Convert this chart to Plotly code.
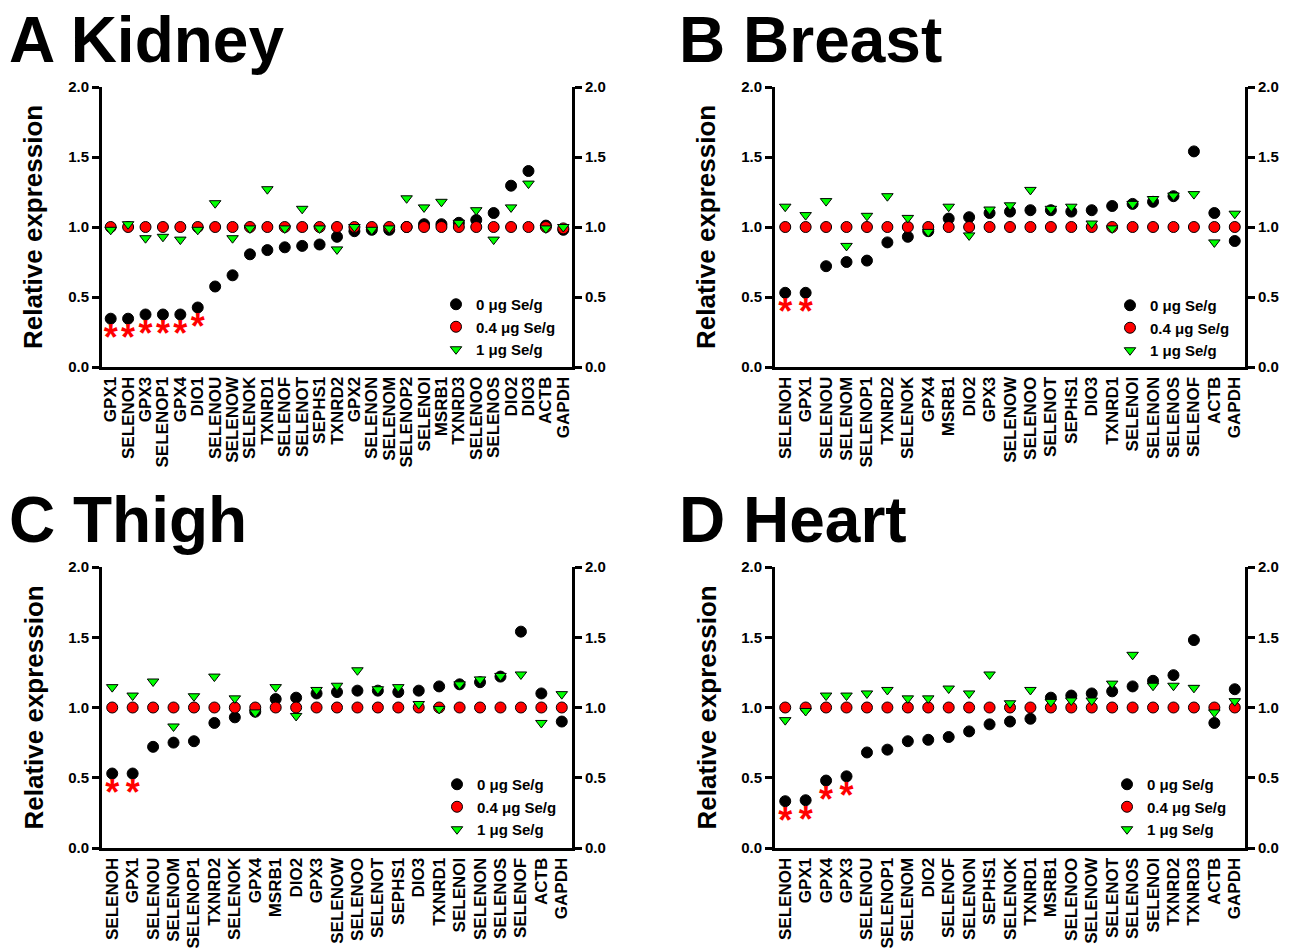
import plotly.graph_objects as go

# ---------------- data ----------------
A_genes = ["GPX1", "SELENOH", "GPX3", "SELENOP1", "GPX4", "DIO1", "SELENOU", "SELENOW",
           "SELENOK", "TXNRD1", "SELENOF", "SELENOT", "SEPHS1", "TXNRD2", "GPX2", "SELENON",
           "SELENOM", "SELENOP2", "SELENOI", "MSRB1", "TXNRD3", "SELENOO", "SELENOS", "DIO2",
           "DIO3", "ACTB", "GAPDH"]
A_0 = [0.345, 0.345, 0.375, 0.375, 0.375, 0.425, 0.575, 0.655, 0.805, 0.835, 0.855, 0.865,
       0.875, 0.93, 0.97, 0.98, 0.98, 1.00, 1.02, 1.02, 1.03, 1.05, 1.10, 1.295, 1.40, 1.01, 0.98]
A_04 = [1.0] * 26 + [0.99]
A_1 = [0.98, 1.02, 0.92, 0.93, 0.91, 0.98, 1.17, 0.92, 0.99, 1.27, 0.99, 1.13, 0.99, 0.84,
       1.00, 0.98, 0.99, 1.205, 1.14, 1.18, 1.03, 1.12, 0.91, 1.14, 1.31, 0.99, 1.00]
A_sig = ["GPX1", "SELENOH", "GPX3", "SELENOP1", "GPX4", "DIO1"]

B_genes = ["SELENOH", "GPX1", "SELENOU", "SELENOM", "SELENOP1", "TXNRD2", "SELENOK", "GPX4",
           "MSRB1", "DIO2", "GPX3", "SELENOW", "SELENOO", "SELENOT", "SEPHS1", "DIO3", "TXNRD1",
           "SELENOI", "SELENON", "SELENOS", "SELENOF", "ACTB", "GAPDH"]
B_0 = [0.53, 0.53, 0.72, 0.75, 0.76, 0.89, 0.93, 0.97, 1.06, 1.07, 1.10, 1.11, 1.12, 1.12,
       1.11, 1.12, 1.15, 1.165, 1.18, 1.22, 1.54, 1.10, 0.90]
B_04 = [1.0] * 23
B_1 = [1.145, 1.085, 1.185, 0.865, 1.08, 1.22, 1.065, 0.965, 1.145, 0.94, 1.125, 1.155, 1.265,
       1.13, 1.145, 1.025, 0.99, 1.165, 1.20, 1.225, 1.235, 0.89, 1.095]
B_sig = ["SELENOH", "GPX1"]

C_genes = ["SELENOH", "GPX1", "SELENOU", "SELENOM", "SELENOP1", "TXNRD2", "SELENOK", "GPX4",
           "MSRB1", "DIO2", "GPX3", "SELENOW", "SELENOO", "SELENOT", "SEPHS1", "DIO3", "TXNRD1",
           "SELENOI", "SELENON", "SELENOS", "SELENOF", "ACTB", "GAPDH"]
C_0 = [0.53, 0.53, 0.72, 0.75, 0.76, 0.89, 0.93, 0.97, 1.06, 1.07, 1.10, 1.11, 1.12, 1.12,
       1.11, 1.12, 1.15, 1.165, 1.18, 1.22, 1.54, 1.10, 0.90]
C_04 = [1.0] * 23
C_1 = [1.145, 1.085, 1.185, 0.865, 1.08, 1.22, 1.065, 0.965, 1.145, 0.94, 1.125, 1.155, 1.265,
       1.13, 1.145, 1.025, 0.99, 1.165, 1.20, 1.225, 1.235, 0.89, 1.095]
C_sig = ["SELENOH", "GPX1"]

D_genes = ["SELENOH", "GPX1", "GPX4", "GPX3", "SELENOU", "SELENOP1", "SELENOM", "DIO2",
           "SELENOF", "SELENON", "SEPHS1", "SELENOK", "TXNRD1", "MSRB1", "SELENOO", "SELENOW",
           "SELENOT", "SELENOS", "SELENOI", "TXNRD2", "TXNRD3", "ACTB", "GAPDH"]
D_0 = [0.333, 0.34, 0.48, 0.51, 0.68, 0.70, 0.76, 0.77, 0.79, 0.83, 0.88, 0.90, 0.92, 1.07,
       1.085, 1.10, 1.115, 1.15, 1.19, 1.23, 1.48, 0.89, 1.13]
D_04 = [1.0] * 23
D_1 = [0.91, 0.975, 1.085, 1.085, 1.10, 1.125, 1.065, 1.065, 1.135, 1.10, 1.235, 1.03, 1.125,
       1.04, 1.05, 1.05, 1.17, 1.375, 1.155, 1.155, 1.14, 0.965, 1.045]
D_sig = ["SELENOH", "GPX1", "GPX4", "GPX3"]

series_names = ["0 μg Se/g", "0.4 μg Se/g", "1 μg Se/g"]
y_ticks = [0.0, 0.5, 1.0, 1.5, 2.0]
y_title = "Relative expression"

# ---------------- layout geometry (pixels) ----------------
W, H = 1304, 949
FONT = "Liberation Sans, Arial, sans-serif"

panels = [
    dict(title="A Kidney", genes=A_genes, v0=A_0, v04=A_04, v1=A_1, sig=A_sig,
         xpx=(102, 572), ypx=(87, 367), tpx=(7, 2), lpx=(436, 288)),
    dict(title="B Breast", genes=B_genes, v0=B_0, v04=B_04, v1=B_1, sig=B_sig,
         xpx=(775, 1245), ypx=(87, 367), tpx=(677, 2), lpx=(1110, 289)),
    dict(title="C Thigh", genes=C_genes, v0=C_0, v04=C_04, v1=C_1, sig=C_sig,
         xpx=(102, 572), ypx=(567, 848), tpx=(7, 482), lpx=(437, 768)),
    dict(title="D Heart", genes=D_genes, v0=D_0, v04=D_04, v1=D_1, sig=D_sig,
         xpx=(775, 1245), ypx=(567, 848), tpx=(677, 482), lpx=(1107, 768)),
]

fig = go.Figure()
annotations = []
layout = {}

axis_common = dict(showgrid=False, zeroline=False, showline=True, linecolor="black",
                   linewidth=3, automargin=False)

for i, p in enumerate(panels):
    k = i + 1
    xa = "x" if k == 1 else f"x{k}"
    ya = "y" if k == 1 else f"y{k}"
    yr = f"y{k + 4}"
    leg = "legend" if k == 1 else f"legend{k}"
    xdom = [p["xpx"][0] / W, p["xpx"][1] / W]
    ydom = [1 - p["ypx"][1] / H, 1 - p["ypx"][0] / H]
    n = len(p["genes"])

    styles = [
        dict(symbol="circle", size=11, color="black", line=dict(color="black", width=1)),
        dict(symbol="circle", size=11, color="#ff0000", line=dict(color="black", width=1)),
        dict(symbol="triangle-down", size=10, color="#00ff00", line=dict(color="black", width=1)),
    ]
    for vals, name, st in zip([p["v0"], p["v04"], p["v1"]], series_names, styles):
        fig.add_trace(go.Scatter(x=p["genes"], y=vals, mode="markers", name=name,
                                 marker=st, xaxis=xa, yaxis=ya, legend=leg,
                                 hoverinfo="x+y+name"))
    # significance asterisks placed under the 0 µg markers
    sig_x = [g for g in p["genes"] if g in p["sig"]]
    sig_y = [p["v0"][p["genes"].index(g)] - 0.16 for g in sig_x]
    fig.add_trace(go.Scatter(x=sig_x, y=sig_y, mode="text", text=["*"] * len(sig_x),
                             textposition="middle center",
                             textfont=dict(family=FONT, size=36, color="#ff0000", weight="bold"),
                             showlegend=False, hoverinfo="skip", xaxis=xa, yaxis=ya))
    # invisible trace to carry the right-hand axis
    fig.add_trace(go.Scatter(x=p["genes"], y=p["v04"], mode="markers",
                             marker=dict(opacity=0), showlegend=False, hoverinfo="skip",
                             xaxis=xa, yaxis=yr))

    xkey = "xaxis" if k == 1 else f"xaxis{k}"
    ykey = "yaxis" if k == 1 else f"yaxis{k}"
    layout[xkey] = dict(axis_common, domain=xdom, anchor=ya, type="category",
                        categoryorder="array", categoryarray=p["genes"],
                        tickmode="array", tickvals=p["genes"], ticktext=p["genes"],
                        range=[-0.5, n - 0.5], ticks="", tickangle=-90,
                        tickfont=dict(family=FONT, size=17, color="black", weight="bold"))
    ytick_style = dict(range=[0, 2], tickvals=y_ticks, ticktext=[f"{v:.1f}" for v in y_ticks],
                       ticks="outside", ticklen=7, tickwidth=3, tickcolor="black",
                       tickfont=dict(family=FONT, size=15, color="black", weight="bold"))
    layout[ykey] = dict(axis_common, **ytick_style, domain=ydom, anchor=xa, side="left")
    layout[f"yaxis{k + 4}"] = dict(axis_common, **ytick_style, overlaying=ya, anchor=xa,
                                   side="right")

    layout[leg] = dict(x=p["lpx"][0] / W, y=1 - p["lpx"][1] / H, xanchor="left",
                       yanchor="top", bgcolor="rgba(0,0,0,0)", borderwidth=0,
                       font=dict(family=FONT, size=15, color="black", weight="bold"),
                       tracegroupgap=0)

    annotations.append(dict(text=p["title"], xref="paper", yref="paper",
                            x=p["tpx"][0] / W, y=1 - p["tpx"][1] / H,
                            xanchor="left", yanchor="top", showarrow=False,
                            font=dict(family=FONT, size=64, color="black", weight="bold")))
    annotations.append(dict(text=y_title, xref="paper", yref="paper",
                            x=(p["xpx"][0] - 69) / W, y=(ydom[0] + ydom[1]) / 2,
                            xanchor="center", yanchor="middle", textangle=-90,
                            showarrow=False,
                            font=dict(family=FONT, size=26, color="black", weight="bold")))

fig.update_layout(width=W, height=H,
                  margin=dict(l=0, r=0, t=0, b=0, pad=0, autoexpand=False),
                  paper_bgcolor="white", plot_bgcolor="white",
                  annotations=annotations, **layout)

post = (
    "document.documentElement.style.margin='0';"
    "document.body.style.margin='0';"
    "document.documentElement.style.overflow='hidden';"
)
fig.write_html("out.html", config={"displayModeBar": False}, post_script=post)
